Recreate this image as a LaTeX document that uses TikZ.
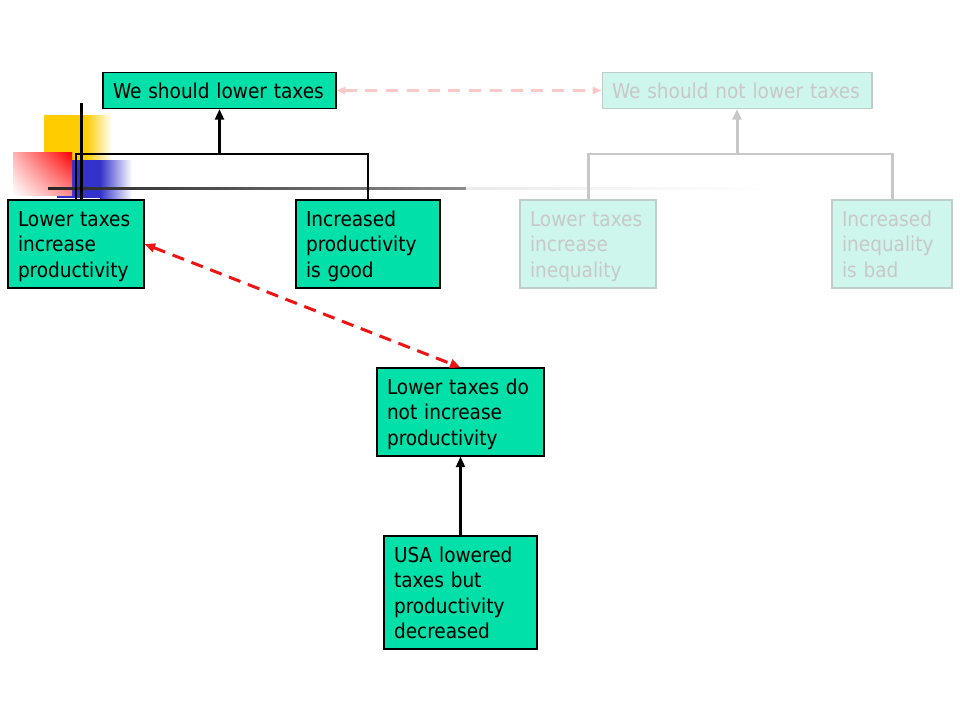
\documentclass[tikz,border=0pt]{standalone}
\usepackage{fontspec}
\setmainfont{DejaVu Sans Condensed}
\usetikzlibrary{arrows.meta,shadings}

\definecolor{argGreen}{RGB}{0,224,168}
\definecolor{fadeFill}{RGB}{206,246,237}
\definecolor{fadeText}{RGB}{200,200,200}
\definecolor{fadeLine}{RGB}{200,200,200}
\definecolor{fadeBorder}{RGB}{190,205,200}
\definecolor{attackRed}{RGB}{238,20,20}
\definecolor{attackPink}{RGB}{250,200,200}
\definecolor{decoYellow}{RGB}{255,204,0}
\definecolor{decoBlue}{RGB}{51,51,204}

\tikzset{
  argbox/.style={draw=black, fill=argGreen, align=left, inner xsep=0.2cm, inner ysep=0pt,
    font=\fontsize{11.7}{14.5}\selectfont, line width=0.6pt,
    execute at begin node={\rule{0pt}{11.7pt}},
    execute at end node={\rule[-2.8pt]{0pt}{0pt}}},
  fadebox/.style={argbox, draw=fadeBorder, fill=fadeFill, text=fadeText},
  treeline/.style={line width=1.7pt, black},
  fadetree/.style={line width=1.7pt, fadeLine},
  tip/.style={-{Triangle[length=6pt,width=5pt]}},
  attack/.style={line width=1.7pt, attackRed, dash pattern=on 7pt off 4.5pt,
    {Triangle[length=6pt,width=5pt]}-{Triangle[length=6pt,width=5pt]}},
  fadeattack/.style={line width=1.2pt, attackPink, dash pattern=on 6.8pt off 5pt,
    {Triangle[length=5pt,width=4pt]}-{Triangle[length=5pt,width=4pt]}},
}

\begin{document}
\begin{tikzpicture}[x=0.02cm, y=-0.02cm]
    \useasboundingbox (0,0) rectangle (960,720);

    % Slide decoration
    \fill[decoYellow] (44,115) rectangle (86,160);
    \shade[left color=decoYellow, right color=white] (86,115) rectangle (112,160);
    \fill[decoBlue] (57,160) rectangle (100,198);
    \shade[left color=decoBlue, right color=white] (100,160) rectangle (132,198);
    \shade[upper left=red!30!white, upper right=red, lower left=white, lower right=red!45!white]
        (13,152) rectangle (72,195);
    \shade[left color=black!85, right color=black!45] (48,187) rectangle (466,189.5);
    \shade[left color=black!8, right color=white] (466,187) rectangle (780,189.5);
    \fill[black] (80,103) rectangle (82.5,200);

    % Argument for lowering taxes
    \node[argbox, text width=4.26cm, minimum height=0.72cm] (claim) at (219.5,90.5) {We should lower taxes};
    \node[argbox, text width=2.32cm, minimum height=1.76cm] (pro1) at (76,244) {Lower taxes\\increase\\productivity};
    \node[argbox, text width=2.48cm, minimum height=1.76cm] (pro2) at (368,244) {Increased\\productivity\\is good};
    \coordinate (lj) at (219.5,154);
    \draw[treeline] (pro1.north) -- (pro1.north |- lj) -- (pro2.north |- lj) -- (pro2.north);
    \draw[treeline, tip] (lj) -- (claim.south);

    % Argument against lowering taxes
    \node[fadebox, text width=5.0cm, minimum height=0.72cm] (notclaim) at (737,90.5) {We should not lower taxes};
    \node[fadebox, text width=2.32cm, minimum height=1.76cm] (con1) at (588,244) {Lower taxes\\increase\\inequality};
    \node[fadebox, text width=2.0cm, minimum height=1.76cm] (con2) at (892,244) {Increased\\inequality\\is bad};
    \coordinate (rj) at (737,154);
    \draw[fadetree] (con1.north) -- (con1.north |- rj) -- (con2.north |- rj) -- (con2.north);
    \draw[fadetree, tip] (rj) -- (notclaim.south);
    \draw[fadeattack] (claim.east) -- (notclaim.west);

    % Counter argument
    \node[argbox, text width=2.94cm, minimum height=1.76cm] (counter) at (460.5,412) {Lower taxes do\\not increase\\productivity};
    \node[argbox, text width=2.66cm, minimum height=2.26cm] (usa) at (460.5,592.5) {USA lowered\\taxes but\\productivity\\decreased};
    \draw[treeline, tip] (usa.north) -- (counter.south);
    \draw[attack] (pro1.east) -- (counter.north);
\end{tikzpicture}
\end{document}
